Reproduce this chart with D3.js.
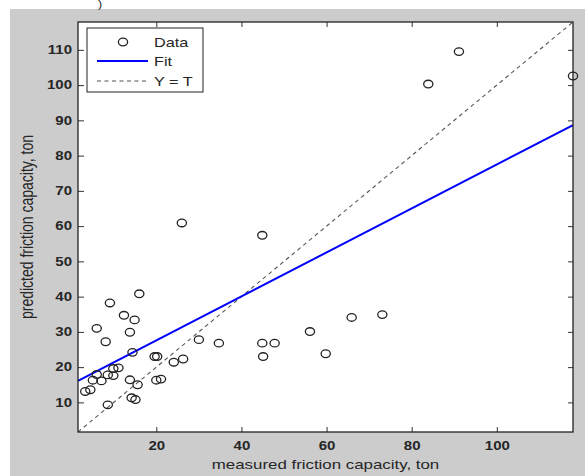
<!DOCTYPE html>
<html>
<head>
<meta charset="utf-8">
<script src="https://cdn.jsdelivr.net/npm/d3@7"></script>
<style>
  html, body { margin: 0; padding: 0; background: #fff; }
  svg { display: block; }
  text { font-family: "Liberation Sans", Arial, sans-serif; fill: #262626; }
</style>
</head>
<body>
<svg id="chart" width="585" height="476"></svg>
<script>
'use strict';

// measured friction capacity (ton) vs predicted friction capacity (ton)
var measured = [
  3.3, 4.5, 5.1, 6.0, 7.1, 8.6, 9.9, 9.9, 11.1, 6.0,
  8.1, 9.1, 12.4, 14.9, 13.8, 14.4, 16.0, 13.8, 15.6, 14.2,
  15.1, 8.6, 19.6, 20.2, 20.0, 21.1, 24.1, 26.3, 26.0, 30.0,
  34.7, 44.9, 44.9, 47.8, 45.1, 56.1, 59.8, 65.9, 73.1, 83.9,
  91.1, 117.9
];
var predicted = [
  13.1, 13.6, 16.3, 17.9, 16.1, 17.8, 17.6, 19.6, 19.8, 31.0,
  27.2, 38.2, 34.7, 33.4, 29.9, 24.2, 40.8, 16.4, 15.0, 11.3,
  10.8, 9.3, 23.0, 23.0, 16.3, 16.6, 21.4, 22.3, 60.9, 27.8,
  26.8, 57.4, 26.8, 26.8, 23.0, 30.1, 23.8, 34.1, 34.9, 100.3,
  109.5, 102.6
];

// linear fit
var fitSlope = 0.624;
var fitIntercept = 15.1;

var axisRange = [1.6, 117.9];
var xTicks = [20, 40, 60, 80, 100];
var yTicks = [10, 20, 30, 40, 50, 60, 70, 80, 90, 100, 110];
var legendLabels = ['Data', 'Fit', 'Y = T'];

var SX = 1.25; // picture is stretched horizontally

var svg = d3.select('#chart');
var plot = { left: 78, right: 573, top: 22, bottom: 432 };

// gray figure background
svg.append('rect').attr('x', 10).attr('y', 9)
  .attr('width', 575).attr('height', 467).attr('fill', '#cccccc');

// leftover glyph from the caption above
svg.append('text').attr('transform', 'translate(98,8) scale(' + SX + ',1)')
  .attr('font-size', 10).text(')');

svg.append('rect').attr('x', plot.left).attr('y', plot.top)
  .attr('width', plot.right - plot.left).attr('height', plot.bottom - plot.top)
  .attr('fill', '#fff');

var x = d3.scaleLinear().domain(axisRange).range([plot.left, plot.right]);
var y = d3.scaleLinear().domain(axisRange).range([plot.bottom, plot.top]);

function stretchText(sel) {
  sel.each(function() {
    var t = d3.select(this);
    var tx = +t.attr('x') || 0, ty = +t.attr('y') || 0;
    t.attr('x', 0).attr('y', 0)
      .attr('transform', 'translate(' + tx + ',' + ty + ') scale(' + SX + ',1)');
  });
}

function styleAxis(g) {
  g.select('.domain').remove();
  g.selectAll('.tick line').attr('stroke', '#333').attr('stroke-width', 1);
  g.selectAll('.tick text').attr('font-size', 12).attr('font-weight', 'bold')
    .attr('fill', '#2a2a2a');
}

var gx = svg.append('g').attr('transform', 'translate(0,' + plot.bottom + ')')
  .call(d3.axisBottom(x).tickValues(xTicks).tickSize(-5).tickPadding(9));
styleAxis(gx); stretchText(gx.selectAll('.tick text'));

svg.append('g').attr('transform', 'translate(0,' + plot.top + ')')
  .call(d3.axisTop(x).tickValues(xTicks).tickSize(-5).tickFormat(''))
  .call(styleAxis);

var gy = svg.append('g').attr('transform', 'translate(' + plot.left + ',0)')
  .call(d3.axisLeft(y).tickValues(yTicks).tickSize(-6).tickPadding(6));
styleAxis(gy); stretchText(gy.selectAll('.tick text'));

svg.append('g').attr('transform', 'translate(' + plot.right + ',0)')
  .call(d3.axisRight(y).tickValues(yTicks).tickSize(-5).tickFormat(''))
  .call(styleAxis);

// clip lines to the axes
svg.append('clipPath').attr('id', 'clip').append('rect')
  .attr('x', plot.left).attr('y', plot.top)
  .attr('width', plot.right - plot.left).attr('height', plot.bottom - plot.top);
var marks = svg.append('g').attr('clip-path', 'url(#clip)');

// Y = T reference
marks.append('line')
  .attr('x1', x(axisRange[0])).attr('y1', y(axisRange[0]))
  .attr('x2', x(axisRange[1])).attr('y2', y(axisRange[1]))
  .attr('stroke', '#555').attr('stroke-width', 1.1).attr('stroke-dasharray', '4,3.5');

// fit line
marks.append('line')
  .attr('x1', x(axisRange[0])).attr('y1', y(fitIntercept + fitSlope * axisRange[0]))
  .attr('x2', x(axisRange[1])).attr('y2', y(fitIntercept + fitSlope * axisRange[1]))
  .attr('stroke', '#0000ff').attr('stroke-width', 2);

// data circles (unclipped so the edge point shows fully)
svg.append('g').selectAll('ellipse').data(measured).join('ellipse')
  .attr('cx', function(d) { return x(d); })
  .attr('cy', function(d, i) { return y(predicted[i]); })
  .attr('rx', 4.6).attr('ry', 3.8)
  .attr('fill', 'none').attr('stroke', '#222').attr('stroke-width', 1.3);

// axes box
svg.append('rect').attr('x', plot.left).attr('y', plot.top)
  .attr('width', plot.right - plot.left).attr('height', plot.bottom - plot.top)
  .attr('fill', 'none').attr('stroke', '#222').attr('stroke-width', 1.3);

// axis titles
svg.append('text')
  .attr('transform', 'translate(' + ((plot.left + plot.right) / 2) + ',469) scale(' + SX + ',1)')
  .attr('text-anchor', 'middle').attr('font-size', 13.5)
  .text('measured friction capacity, ton');

svg.append('text')
  .attr('transform', 'translate(33,' + ((plot.top + plot.bottom) / 2) + ') scale(' + SX + ',1) rotate(-90)')
  .attr('text-anchor', 'middle').attr('font-size', 14)
  .text('predicted friction capacity, ton');

// legend
var lg = svg.append('g');
lg.append('rect').attr('x', 87).attr('y', 28).attr('width', 116).attr('height', 64)
  .attr('fill', '#fff').attr('stroke', '#222').attr('stroke-width', 1);

var rowY = [42, 61, 81];
lg.append('ellipse').attr('cx', 123).attr('cy', rowY[0]).attr('rx', 4.6).attr('ry', 3.8)
  .attr('fill', 'none').attr('stroke', '#222').attr('stroke-width', 1.3);
lg.append('line').attr('x1', 97).attr('x2', 148).attr('y1', rowY[1]).attr('y2', rowY[1])
  .attr('stroke', '#0000ff').attr('stroke-width', 2);
lg.append('line').attr('x1', 97).attr('x2', 148).attr('y1', rowY[2]).attr('y2', rowY[2])
  .attr('stroke', '#555').attr('stroke-width', 1.1).attr('stroke-dasharray', '4,3.5');

lg.selectAll('text.lbl').data(legendLabels).join('text').attr('class', 'lbl')
  .attr('transform', function(d, i) { return 'translate(154,' + (rowY[i] + 4.5) + ') scale(' + SX + ',1)'; })
  .attr('font-size', 13)
  .text(function(d) { return d; });
</script>
</body>
</html>
